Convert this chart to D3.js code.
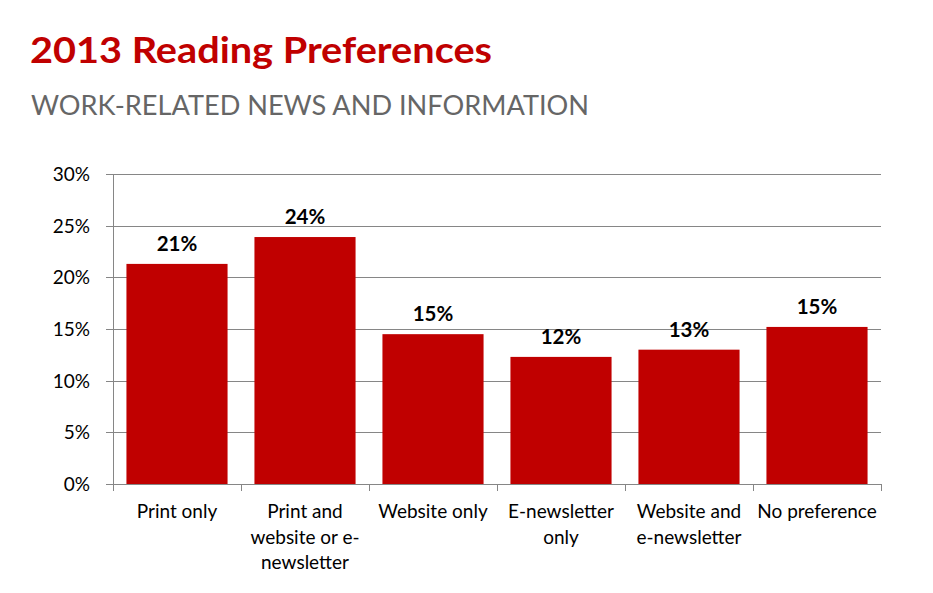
<!DOCTYPE html>
<html>
<head>
<meta charset="utf-8">
<script src="https://cdnjs.cloudflare.com/ajax/libs/d3/7.8.5/d3.min.js"></script>
<style>
  body { margin: 0; background: #fff; }
  svg text { font-family: Lato, "Open Sans", sans-serif; }
</style>
</head>
<body>
<div id="plot"></div>
<script>
// chart data
var categories = ["Print only", "Print and website or e-newsletter", "Website only",
                  "E-newsletter only", "Website and e-newsletter", "No preference"];
var tickLines = [["Print only"], ["Print and", "website or e-", "newsletter"], ["Website only"],
                 ["E-newsletter", "only"], ["Website and", "e-newsletter"], ["No preference"]];
var values = [21.3, 23.9, 14.5, 12.3, 13.0, 15.2];
var valueLabels = ["21%", "24%", "15%", "12%", "13%", "15%"];
var yTicks = [0, 5, 10, 15, 20, 25, 30];

var W = 933, H = 593;
var margin = {top: 174, right: 52, bottom: 109, left: 113};
var width = W - margin.left - margin.right;
var height = H - margin.top - margin.bottom;
var red = "#C00000", axisGrey = "#868686";

var root = d3.select("div#plot").append("svg")
    .attr("width", W)
    .attr("height", H);

// title + subtitle
root.append("text")
    .attr("x", 30).attr("y", 63)
    .attr("fill", red)
    .style("font-size", "37px")
    .style("font-weight", "bold")
    .attr("textLength", 462).attr("lengthAdjust", "spacingAndGlyphs")
    .text("2013 Reading Preferences");

root.append("text")
    .attr("x", 31).attr("y", 115)
    .attr("fill", "#666666")
    .style("font-size", "26px")
    .attr("textLength", 558).attr("lengthAdjust", "spacingAndGlyphs")
    .text("WORK-RELATED NEWS AND INFORMATION");

var svg = root.append("g")
    .attr("transform", "translate(" + margin.left + "," + margin.top + ")");

var x = d3.scaleBand()
    .domain(categories)
    .range([0, width])
    .paddingInner(0.21)
    .paddingOuter(0.105);

var y = d3.scaleLinear()
    .domain([0, 30])
    .range([height, 0]);

// gridlines
svg.append("g")
    .selectAll("line")
    .data(yTicks)
    .enter().append("line")
    .attr("x1", -7).attr("x2", width)
    .attr("y1", d => Math.round(y(d)) + 0.5)
    .attr("y2", d => Math.round(y(d)) + 0.5)
    .attr("stroke", axisGrey)
    .attr("stroke-width", 1);

// y labels
svg.append("g")
    .selectAll("text")
    .data(yTicks)
    .enter().append("text")
    .attr("x", -23)
    .attr("y", d => y(d))
    .attr("dy", "0.36em")
    .attr("text-anchor", "end")
    .style("font-size", "19px")
    .attr("fill", "#000")
    .text(d => d + "%");

// y axis line
svg.append("line")
    .attr("x1", 0.5).attr("x2", 0.5)
    .attr("y1", 0).attr("y2", height + 7)
    .attr("stroke", axisGrey);

// bottom category ticks
var step = width / categories.length;
svg.append("g")
    .selectAll("line")
    .data(d3.range(categories.length + 1))
    .enter().append("line")
    .attr("x1", i => Math.round(i * step) + 0.5)
    .attr("x2", i => Math.round(i * step) + 0.5)
    .attr("y1", height).attr("y2", height + 7)
    .attr("stroke", axisGrey);

// bars
svg.selectAll(".bar")
    .data(values)
    .enter().append("rect")
    .attr("class", "bar")
    .attr("x", (d, i) => x(categories[i]))
    .attr("width", x.bandwidth())
    .attr("y", d => y(d))
    .attr("height", d => height - y(d))
    .attr("fill", red);

// value labels
svg.selectAll(".val")
    .data(values)
    .enter().append("text")
    .attr("class", "val")
    .attr("x", (d, i) => x(categories[i]) + x.bandwidth() / 2)
    .attr("y", d => y(d) - 13)
    .attr("text-anchor", "middle")
    .style("font-size", "20.5px")
    .style("font-weight", "bold")
    .attr("fill", "#000")
    .text((d, i) => valueLabels[i]);

// category labels
var cat = svg.selectAll(".cat")
    .data(categories)
    .enter().append("text")
    .attr("class", "cat")
    .attr("text-anchor", "middle")
    .style("font-size", "19px")
    .attr("fill", "#000");

cat.each(function(d, i) {
  var t = d3.select(this);
  tickLines[i].forEach(function(line, j) {
    t.append("tspan")
      .attr("x", x(d) + x.bandwidth() / 2)
      .attr("y", height + 34 + j * 25.5)
      .text(line);
  });
});
</script>
</body>
</html>
